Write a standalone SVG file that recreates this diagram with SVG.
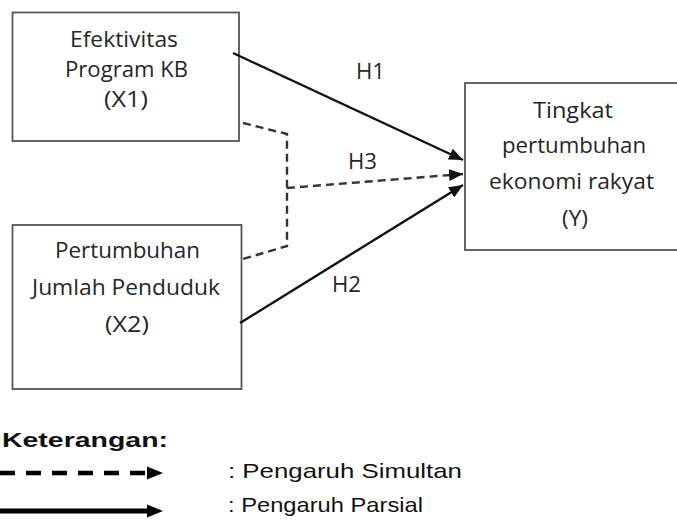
<svg xmlns="http://www.w3.org/2000/svg" width="677" height="520" viewBox="0 0 677 520">
<defs>
<style>
.box{fill:#fff;stroke:#555;stroke-width:1.8}
.t{font-family:"Open Sans","Liberation Sans",sans-serif;font-size:22px;fill:#262626;text-anchor:start}
.line{fill:none;stroke:#111;stroke-width:2.4}
.dash{fill:none;stroke:#333;stroke-width:2.4;stroke-dasharray:8 5}
.leg{font-family:"Liberation Sans",Arial,sans-serif;font-size:21px;fill:#111}
</style>
<marker id="ah" viewBox="0 0 14 12" refX="14" refY="6" markerWidth="14" markerHeight="12" markerUnits="userSpaceOnUse" orient="auto">
<path d="M0,0 L14,6 L0,12 Z" fill="#111"/>
</marker>
</defs>
<rect width="677" height="520" fill="#fff"/>

<g id="x1">
<rect class="box" x="12.5" y="12.5" width="226.5" height="128.5"/>
<text class="t" x="70" y="47" textLength="108" lengthAdjust="spacingAndGlyphs">Efektivitas</text>
<text class="t" x="65" y="77" textLength="123" lengthAdjust="spacingAndGlyphs">Program KB</text>
<text class="t" x="104" y="107" textLength="44" lengthAdjust="spacingAndGlyphs">(X1)</text>
</g>

<g id="x2">
<rect class="box" x="12.5" y="225" width="229" height="164"/>
<text class="t" x="55" y="258" textLength="145" lengthAdjust="spacingAndGlyphs">Pertumbuhan</text>
<text class="t" x="32" y="295" textLength="188" lengthAdjust="spacingAndGlyphs">Jumlah Penduduk</text>
<text class="t" x="105" y="332" textLength="44" lengthAdjust="spacingAndGlyphs">(X2)</text>
</g>

<g id="y">
<rect class="box" x="465" y="83" width="230" height="167"/>
<text class="t" x="533" y="118" textLength="80" lengthAdjust="spacingAndGlyphs">Tingkat</text>
<text class="t" x="502" y="153" textLength="144" lengthAdjust="spacingAndGlyphs">pertumbuhan</text>
<text class="t" x="489" y="189" textLength="165" lengthAdjust="spacingAndGlyphs">ekonomi rakyat</text>
<text class="t" x="562" y="226" textLength="26" lengthAdjust="spacingAndGlyphs">(Y)</text>
</g>

<g id="connectors">
<line class="line" x1="233" y1="53" x2="463" y2="160" marker-end="url(#ah)"/>
<line class="line" x1="240" y1="323" x2="463" y2="185" marker-end="url(#ah)"/>
<polyline class="dash" points="243,123 287,134 287,246 243,259"/>
<line class="dash" x1="287" y1="188" x2="463" y2="174" marker-end="url(#ah)"/>
<text class="t" x="356" y="79" textLength="29" lengthAdjust="spacingAndGlyphs">H1</text>
<text class="t" x="348" y="169" textLength="29" lengthAdjust="spacingAndGlyphs">H3</text>
<text class="t" x="332" y="292" textLength="29" lengthAdjust="spacingAndGlyphs">H2</text>
</g>

<g id="legend">
<text class="leg" x="2" y="447" font-weight="bold" textLength="166" lengthAdjust="spacingAndGlyphs">Keterangan:</text>
<line x1="0" y1="473" x2="147" y2="473" stroke="#000" stroke-width="4.5" stroke-dasharray="15 11"/>
<path d="M147,466.5 L163,473 L147,479.5 Z" fill="#000"/>
<line x1="0" y1="511" x2="149" y2="511" stroke="#000" stroke-width="5"/>
<path d="M147,504.5 L163,511 L147,517.5 Z" fill="#000"/>
<text class="leg" x="228" y="478" textLength="234" lengthAdjust="spacingAndGlyphs">: Pengaruh Simultan</text>
<text class="leg" x="228" y="512" textLength="195" lengthAdjust="spacingAndGlyphs">: Pengaruh Parsial</text>
</g>
</svg>
